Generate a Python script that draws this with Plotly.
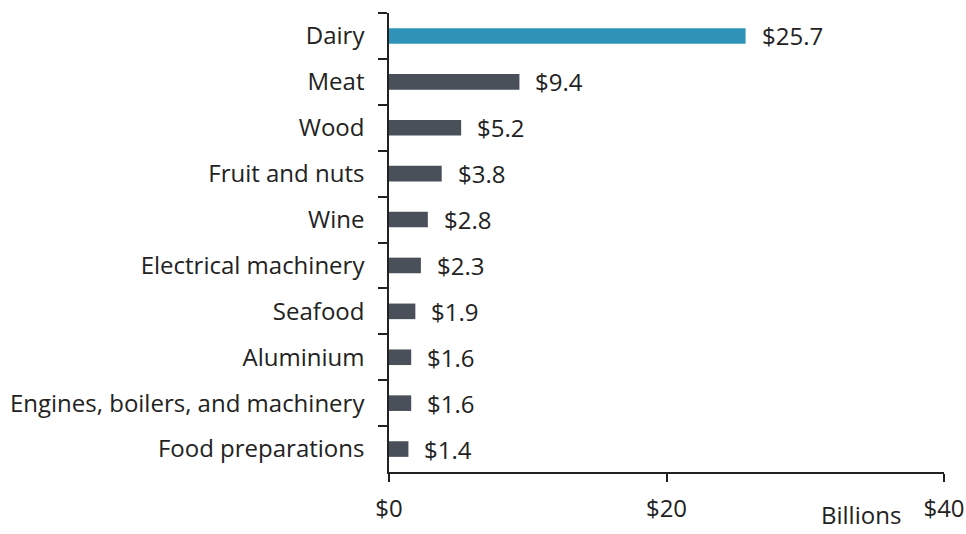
import plotly.graph_objects as go

categories = ["Dairy", "Meat", "Wood", "Fruit and nuts", "Wine", "Electrical machinery",
              "Seafood", "Aluminium", "Engines, boilers, and machinery", "Food preparations"]
values = [25.7, 9.4, 5.2, 3.8, 2.8, 2.3, 1.9, 1.6, 1.6, 1.4]
labels = ["$25.7", "$9.4", "$5.2", "$3.8", "$2.8", "$2.3", "$1.9", "$1.6", "$1.6", "$1.4"]
x_ticks = [0, 20, 40]
x_ticklabels = ["$0", "$20", "$40"]

colors = ["#2E93B7" if i == 0 else "#4A5059" for i in range(len(categories))]

FS = 24

fig = go.Figure()
fig.add_trace(go.Bar(
    y=categories, x=values, orientation="h",
    marker=dict(color=colors, line=dict(width=0)),
    width=0.34, hoverinfo="x+y",
))

for c, v, t in zip(categories, values, labels):
    fig.add_annotation(x=v, y=c, text=t, showarrow=False, xanchor="left", yanchor="middle",
                       xshift=14, font=dict(family="Open Sans", size=FS, color="#222222"))

fig.add_annotation(x=0.85, y=-0.093, xref="paper", yref="paper", text="Billions",
                   showarrow=False, xanchor="center", yanchor="middle", borderpad=0,
                   font=dict(family="Open Sans", size=FS, color="#222222"))

fig.update_layout(
    width=966, height=534,
    margin=dict(l=389, r=22, t=13, b=62),
    paper_bgcolor="white", plot_bgcolor="white",
    showlegend=False,
    font=dict(family="Open Sans", size=FS, color="#222222"),
    xaxis=dict(range=[0, 40], tickvals=x_ticks, ticktext=x_ticklabels, automargin=False,
               showgrid=False, zeroline=False, showline=True, linecolor="#222222", linewidth=1.5,
               ticks="outside", ticklen=8, tickcolor="#222222", tickwidth=1.5,
               tickfont=dict(size=FS, color="#222222"), ticklabelstandoff=6),
    yaxis=dict(autorange="reversed", showgrid=False, zeroline=False, showline=True,
               automargin=False,
               linecolor="#222222", linewidth=1.5, ticks="outside", ticklen=9,
               tickson="boundaries", tickcolor="#222222", tickwidth=1.5,
               tickfont=dict(size=FS, color="#222222"), ticklabelstandoff=18),
)

fig.write_html("out.html", config={"displayModeBar": False},
               post_script="document.body.style.margin='0';")
